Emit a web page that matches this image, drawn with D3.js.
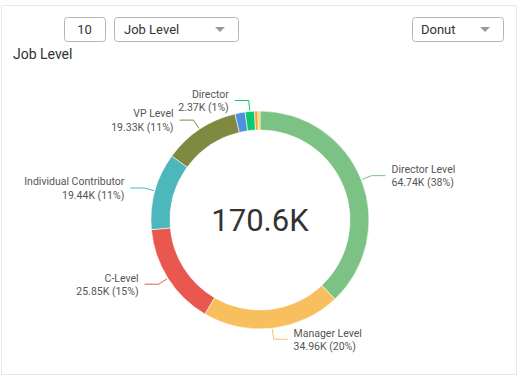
<!DOCTYPE html>
<html>
<head>
<meta charset="utf-8">
<script src="https://cdn.jsdelivr.net/npm/d3@7/dist/d3.min.js"></script>
<style>
  html, body { margin: 0; padding: 0; background: #fff; }
  svg { display: block; font-family: Roboto, "Noto Sans", sans-serif; }
</style>
</head>
<body>
<svg id="chart" width="528" height="380"></svg>
<script>
// ---- data ----
const categories = ["Director Level", "Manager Level", "C-Level", "Individual Contributor", "VP Level", "Unknown", "Director", "Owner", "Other"];
const values = [64.74, 34.96, 25.85, 19.44, 19.33, 2.55, 2.37, 0.86, 0.50]; // thousands
const percentLabels = ["38%", "20%", "15%", "11%", "11%", "1%", "1%", "0%", "0%"];
const showLabel = [true, true, true, true, true, false, true, false, false];
const colors = ["#7cc285", "#f8bf5f", "#e9584e", "#4db8bb", "#7f8a40", "#4f8fdc", "#08cb6f", "#f6a23a", "#efd33d"];
const totalLabel = "170.6K";
const title = "Job Level";
const topN = "10";
const dimension = "Job Level";
const chartType = "Donut";

const svg = d3.select("#chart");

// panel
svg.append("rect").attr("x", 1.5).attr("y", 5.5).attr("width", 515).attr("height", 369)
  .attr("fill", "#fff").attr("stroke", "#e8e8e8");

// controls
function box(x, w, label, arrow, tx) {
  const g = svg.append("g");
  g.append("rect").attr("x", x + 0.5).attr("y", 17.5).attr("width", w).attr("height", 24)
    .attr("rx", 3).attr("fill", "#fff").attr("stroke", "#b5b5b5");
  g.append("text").attr("x", tx).attr("y", 34).attr("font-size", 13).attr("fill", "#333")
    .attr("text-anchor", arrow ? "start" : "middle").text(label);
  if (arrow) {
    const ax = x + w - 18;
    g.append("path").attr("d", `M${ax - 5},27 L${ax + 5},27 L${ax},32 Z`).attr("fill", "#999");
  }
}
box(64, 41, topN, false, 84.5);
box(114, 124, dimension, true, 124);
box(412, 91, chartType, true, 421);

svg.append("text").attr("x", 13).attr("y", 59).attr("font-size", 14).attr("fill", "#333").text(title);

// donut
const cx = 260, cy = 220, rOuter = 109, rInner = 90;
const data = categories.map((c, i) => ({ name: c, value: values[i], pct: percentLabels[i], show: showLabel[i], color: colors[i] }));
const pie = d3.pie().value(d => d.value).sort(null);
const arcs = pie(data);
const arc = d3.arc().innerRadius(rInner).outerRadius(rOuter);

const g = svg.append("g").attr("transform", `translate(${cx},${cy})`);
g.selectAll("path.slice").data(arcs).join("path").attr("class", "slice")
  .attr("d", arc).attr("fill", d => d.data.color).attr("stroke", "#fff").attr("stroke-width", 0.6);

g.append("text").attr("x", 0).attr("y", 0).attr("dy", "0.35em").attr("text-anchor", "middle")
  .attr("font-size", 31).attr("fill", "#333").text(totalLabel);

// labels
const fmt = v => d3.format(".2f")(v) + "K";
const rElbow = 120, hLen = 14, gap = 6;
arcs.filter(d => d.data.show).forEach(d => {
  const a = (d.startAngle + d.endAngle) / 2;
  const sx = Math.sin(a), sy = -Math.cos(a);
  const p0 = [sx * (rOuter + 1), sy * (rOuter + 1)];
  const p1 = [sx * rElbow, sy * rElbow];
  const right = sx >= 0;
  const p2 = [p1[0] + (right ? hLen : -hLen), p1[1]];
  g.append("polyline").attr("points", [p0, p1, p2].map(p => p.join(",")).join(" "))
    .attr("fill", "none").attr("stroke", d.data.color).attr("stroke-width", 1);
  const t = g.append("text").attr("x", p2[0] + (right ? gap : -gap)).attr("y", p2[1])
    .attr("text-anchor", right ? "start" : "end").attr("font-size", 10.5).attr("fill", "#555");
  t.append("tspan").attr("x", p2[0] + (right ? gap : -gap)).attr("dy", "-0.25em").text(d.data.name);
  t.append("tspan").attr("x", p2[0] + (right ? gap : -gap)).attr("dy", "1.25em").text(fmt(d.data.value) + " (" + d.data.pct + ")");
});
</script>
</body>
</html>
